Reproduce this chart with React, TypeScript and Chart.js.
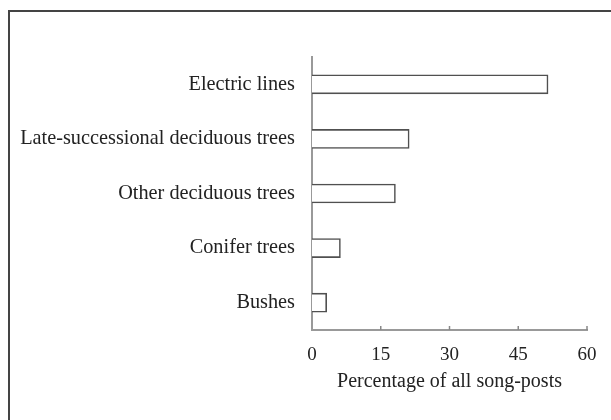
import React, { useEffect, useRef } from "react";
import { Chart, registerables } from "chart.js";

Chart.register(...registerables);

const categories = [
  "Electric lines",
  "Late-successional deciduous trees",
  "Other deciduous trees",
  "Conifer trees",
  "Bushes",
];
const percentages = [51.5, 21.2, 18.2, 6.2, 3.2];
const xTicks = [0, 15, 30, 45, 60];
const xTitle = "Percentage of all song-posts";

const FONT = "'Liberation Serif', 'Times New Roman', serif";

const framePlugin = {
  id: "frameAndTicks",
  afterDraw(chart: any) {
    const ctx = chart.ctx;
    ctx.save();
    ctx.strokeStyle = "#444";
    ctx.lineWidth = 2;
    ctx.beginPath();
    ctx.moveTo(9, chart.height + 5);
    ctx.lineTo(9, 11);
    ctx.lineTo(chart.width + 5, 11);
    ctx.stroke();
    const xs = chart.scales.x;
    const y0 = chart.chartArea.bottom;
    ctx.strokeStyle = "#888";
    ctx.lineWidth = 1.5;
    for (const v of xTicks) {
      if (v === 0) continue;
      const px = xs.getPixelForValue(v);
      ctx.beginPath();
      ctx.moveTo(px, y0);
      ctx.lineTo(px, y0 - 4);
      ctx.stroke();
    }
    ctx.restore();
  },
};

export default function App() {
  const ref = useRef<HTMLCanvasElement>(null);
  useEffect(() => {
    if (!ref.current) return;
    const chart = new Chart(ref.current, {
      type: "bar",
      data: {
        labels: categories,
        datasets: [
          {
            data: percentages,
            backgroundColor: "#ffffff",
            borderColor: "#505050",
            borderWidth: 1.6,
            barThickness: 19,
          },
        ],
      },
      options: {
        indexAxis: "y",
        animation: false,
        responsive: false,
        layout: { padding: { left: 0, right: 24, top: 57, bottom: 26 } },
        plugins: {
          legend: { display: false },
          tooltip: { enabled: false },
        },
        scales: {
          x: {
            min: 0,
            max: 60,
            afterBuildTicks(scale: any) {
              scale.ticks = xTicks.map((v) => ({ value: v }));
            },
            afterFit(scale: any) {
              scale.height = 64;
            },
            grid: { display: false, drawTicks: false },
            border: { display: true, color: "#999", width: 2 },
            ticks: {
              padding: 14,
              color: "#222",
              font: { family: FONT, size: 19 },
              maxRotation: 0,
            },
            title: {
              display: true,
              text: xTitle,
              color: "#222",
              font: { family: FONT, size: 20 },
              padding: 0,
            },
          },
          y: {
            afterFit(scale: any) {
              scale.width = 312;
            },
            grid: { display: false, drawTicks: false },
            border: { display: true, color: "#999", width: 2 },
            ticks: {
              padding: 17,
              color: "#222",
              font: { family: FONT, size: 20.3 },
            },
          },
        },
      },
      plugins: [framePlugin],
    } as any);
    return () => chart.destroy();
  }, []);
  return (
    <div style={{ position: "fixed", left: 0, top: 0, width: 611, height: 420, background: "#fff" }}>
      <canvas ref={ref} width={611} height={420} style={{ display: "block" }} />
    </div>
  );
}
